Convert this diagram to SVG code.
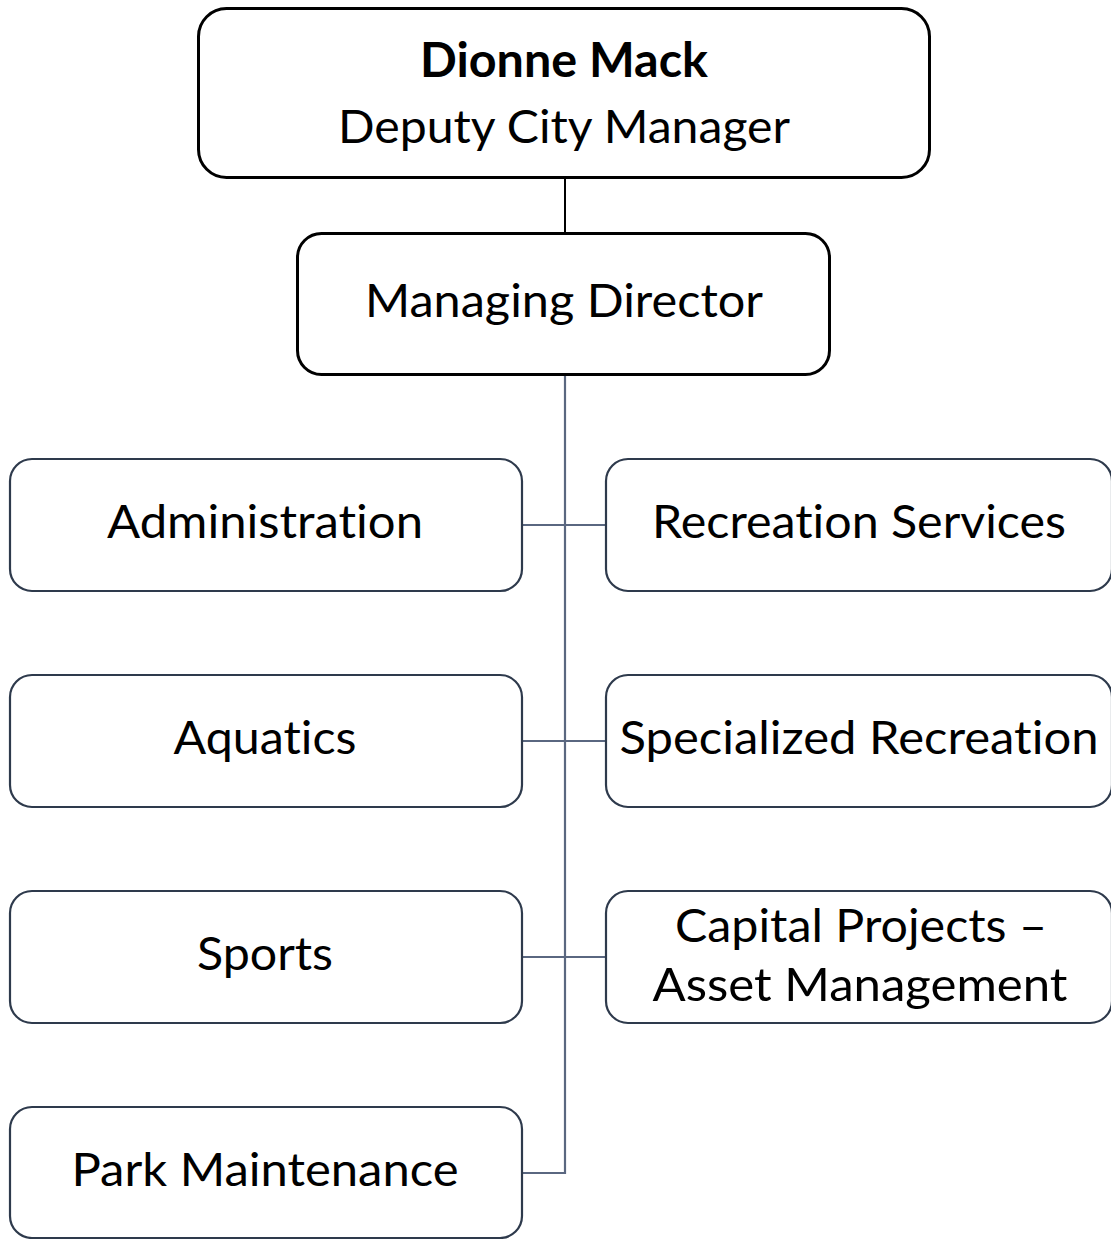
<svg xmlns="http://www.w3.org/2000/svg" width="1111" height="1239" viewBox="0 0 1111 1239">
<style>
.bg{fill:#ffffff}
.top{fill:#ffffff;stroke:#000000;stroke-width:3}
.unit{fill:#ffffff;stroke:#2e3a4c;stroke-width:2.2}
.t{font-family:Lato,"Open Sans","Liberation Sans",sans-serif;font-size:47px;fill:#000000;text-anchor:middle;font-variant-ligatures:none}
.b{font-weight:bold}
.c1{stroke:#000000;stroke-width:2;fill:none}
.c2{stroke:#5a6780;stroke-width:2.2;fill:none}
</style>
<rect class="bg" x="0" y="0" width="1111" height="1239"/>
<g id="connectors">
<line class="c1" x1="565" y1="178" x2="565" y2="233"/>
<polyline class="c2" points="565,375 565,1173 522,1173"/>
<line class="c2" x1="522" y1="525" x2="606" y2="525"/>
<line class="c2" x1="522" y1="741" x2="606" y2="741"/>
<line class="c2" x1="522" y1="957" x2="606" y2="957"/>
</g>
<g id="dionne-mack">
<rect class="top" x="198.5" y="8.5" width="731" height="169" rx="28"/>
<text class="t b" x="564" y="77" textLength="288" lengthAdjust="spacingAndGlyphs">Dionne Mack</text>
<text class="t" x="564" y="143" textLength="452" lengthAdjust="spacingAndGlyphs">Deputy City Manager</text>
</g>
<g id="managing-director">
<rect class="top" x="297.5" y="233.5" width="532" height="141" rx="24"/>
<text class="t" x="564" y="317" textLength="398" lengthAdjust="spacingAndGlyphs">Managing Director</text>
</g>
<g id="administration">
<rect class="unit" x="10" y="459" width="512" height="132" rx="22"/>
<text class="t" x="265" y="538" textLength="316" lengthAdjust="spacingAndGlyphs">Administration</text>
</g>
<g id="recreation-services">
<rect class="unit" x="606" y="459" width="506" height="132" rx="22"/>
<text class="t" x="859" y="538" textLength="414" lengthAdjust="spacingAndGlyphs">Recreation Services</text>
</g>
<g id="aquatics">
<rect class="unit" x="10" y="675" width="512" height="132" rx="22"/>
<text class="t" x="265" y="754" textLength="183" lengthAdjust="spacingAndGlyphs">Aquatics</text>
</g>
<g id="specialized-recreation">
<rect class="unit" x="606" y="675" width="506" height="132" rx="22"/>
<text class="t" x="859" y="754" textLength="479" lengthAdjust="spacingAndGlyphs">Specialized Recreation</text>
</g>
<g id="sports">
<rect class="unit" x="10" y="891" width="512" height="132" rx="22"/>
<text class="t" x="265" y="970" textLength="136" lengthAdjust="spacingAndGlyphs">Sports</text>
</g>
<g id="capital-projects">
<rect class="unit" x="606" y="891" width="506" height="132" rx="22"/>
<text class="t" x="861" y="942" textLength="372" lengthAdjust="spacingAndGlyphs">Capital Projects –</text>
<text class="t" x="860" y="1001" textLength="415" lengthAdjust="spacingAndGlyphs">Asset Management</text>
</g>
<g id="park-maintenance">
<rect class="unit" x="10" y="1107" width="512" height="131" rx="22"/>
<text class="t" x="265" y="1186" textLength="387" lengthAdjust="spacingAndGlyphs">Park Maintenance</text>
</g>
</svg>
